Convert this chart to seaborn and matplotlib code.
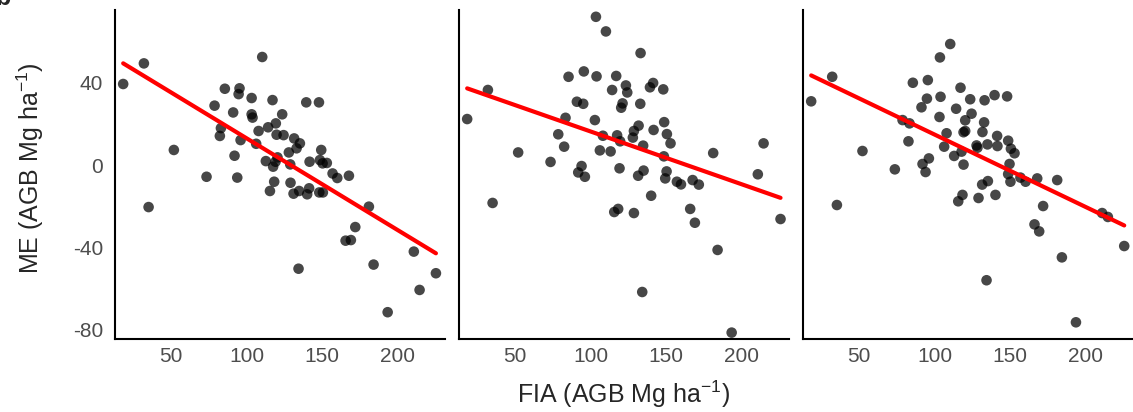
import numpy as np
import pandas as pd
import matplotlib
matplotlib.use("Agg")
import matplotlib.pyplot as plt
import seaborn as sns

# ---- data ----
fia_1 = [18.5, 32.2, 35.3, 52.0, 73.6, 78.9, 83.1, 82.4, 85.7, 91.2, 92.1, 93.9, 94.8, 95.4, 96.1,
         103.4, 103.4, 104.0, 106.4, 108.0, 110.4, 112.8, 114.3, 115.5, 117.2, 117.6, 118.3, 119.4,
         119.9, 120.5, 119.2, 123.6, 124.5, 128.0, 128.9, 129.1, 131.1, 131.5, 133.1, 134.4, 134.8,
         135.3, 139.5, 140.1, 141.4, 141.7, 147.9, 148.1, 149.4, 148.5, 150.3, 150.5, 153.1, 156.9,
         160.0, 167.7, 165.5, 169.0, 171.9, 180.9, 184.0, 193.3, 210.6, 214.4, 225.2]
me_1 = [39.3, 49.3, -20.4, 7.3, -5.7, 28.8, 17.9, 14.1, 37.0, 25.5, 4.5, -6.1, 34.4, 37.2, 12.1,
        32.5, 24.6, 23.0, 10.3, 16.5, 52.4, 1.9, 18.3, -12.6, 31.5, -0.8, -8.1, 20.2,
        14.7, 3.7, 1.6, 24.6, 14.5, 6.1, 0.3, -8.6, -13.9, 12.9, 8.1, -50.3, -12.6,
        10.5, 30.4, -14.2, -11.3, 1.6, 30.4, -13.3, 7.3, 2.4, 0.8, -13.3, 1.0, -4.1,
        -6.3, -5.2, -36.7, -36.4, -30.1, -20.2, -48.3, -71.4, -42.0, -60.6, -52.5]

fia_2 = [18.5, 32.2, 35.3, 52.2, 73.6, 78.7, 82.6, 83.5, 85.5, 91.0, 91.9, 94.1, 95.2, 95.6, 96.3,
         102.9, 103.6, 104.0, 106.2, 108.2, 110.2, 113.3, 114.3, 115.7, 117.0, 117.6, 118.3, 119.2,
         119.6, 120.3, 121.2, 123.4, 124.3, 128.0, 128.7, 128.7, 131.5, 131.8, 132.9, 133.1, 134.2,
         134.8, 135.1, 139.3, 140.1, 141.4, 141.7, 148.1, 148.5, 148.7, 149.4, 150.3, 150.5, 152.9,
         157.1, 159.8, 165.9, 167.5, 169.0, 171.6, 181.1, 184.0, 193.3, 210.6, 214.4, 225.6]
me_2 = [22.3, 36.4, -18.4, 6.1, 1.5, 14.9, 8.9, 22.9, 42.8, 30.7, -3.6, -0.5, 29.7, 45.4, -5.7,
        21.8, 71.9, 43.0, 7.1, 14.2, 64.8, 6.6, 36.4, -22.8, 43.2, 14.4, -21.3, -1.6,
        11.5, 27.8, 29.9, 38.6, 35.2, 13.3, 16.5, -23.3, -5.2, 19.1, 29.7, 54.3, -61.6,
        9.4, -2.7, 37.7, -14.9, 39.8, 17.0, 36.7, 4.2, 20.8, -6.5, -3.1, 15.0, 10.5,
        -8.1, -9.4, -21.3, -7.3, -28.0, -9.5, 5.8, -41.2, -81.3, -4.5, 10.5, -26.2]

fia_3 = [18.5, 32.4, 35.5, 52.4, 73.8, 78.9, 82.8, 83.5, 85.7, 91.4, 92.1, 94.1, 95.0, 95.6, 96.3,
         103.3, 103.6, 104.0, 106.4, 108.0, 110.4, 113.0, 114.3, 115.7, 117.2, 117.9, 118.5, 119.2,
         119.2, 120.3, 120.3, 123.6, 124.5, 127.8, 128.4, 129.1, 131.5, 131.7, 133.1, 132.8, 134.4,
         135.0, 135.3, 139.7, 140.3, 141.4, 141.6, 148.0, 148.7, 149.6, 148.7, 150.5, 150.2, 152.9,
         156.8, 160.2, 167.9, 166.1, 169.2, 171.8, 181.1, 184.2, 193.5, 210.8, 214.6, 225.4]
me_3 = [30.9, 42.8, -19.4, 6.8, -2.1, 21.8, 11.5, 20.2, 39.9, 28.0, 0.5, -3.4, 32.2, 41.2, 3.2,
        23.3, 52.2, 33.1, 8.9, 15.4, 58.7, 4.4, 27.3, -17.6, 37.5, 6.5, -14.5, 0.2,
        15.9, 16.5, 21.7, 31.9, 24.9, 9.5, 8.4, -16.0, -9.5, 16.0, 31.4, 20.7, -55.9,
        10.0, -7.8, 33.9, -14.5, 14.1, 9.2, 33.3, 11.8, 0.5, -4.4, 7.9, -8.1, 5.7,
        -6.1, -8.1, -6.5, -28.8, -32.2, -19.9, -7.3, -44.8, -76.3, -23.3, -25.2, -39.3]

x_ticks = [50, 100, 150, 200]
y_ticks = [-80, -40, 0, 40]
y_tick_labels = ["-80", "-40", "0", "40"]
x_label = "FIA (AGB Mg ha$^{-1}$)"
y_label = "ME (AGB Mg ha$^{-1}$)"
panel_tag = "b"

panels = [(fia_1, me_1), (fia_2, me_2), (fia_3, me_3)]

# ---- style ----
sns.set_theme(style="white")
plt.rcParams["font.family"] = ["Liberation Sans", "DejaVu Sans"]
plt.rcParams["mathtext.fontset"] = "custom"
plt.rcParams["mathtext.rm"] = "Liberation Sans"
plt.rcParams["mathtext.it"] = "Liberation Sans"

W, H = 1133, 412
fig = plt.figure(figsize=(W / 100, H / 100), dpi=100)

lefts = [115, 459, 803]
pw = 330
top_px, bot_px = 10, 339

axes = []
for i, (fx, fy) in enumerate(panels):
    ax = fig.add_axes([lefts[i] / W, 1 - bot_px / H, pw / W, (bot_px - top_px) / H])
    df = pd.DataFrame({"FIA": fx, "ME": fy})
    sns.regplot(data=df, x="FIA", y="ME", ax=ax, ci=None, truncate=True,
                scatter_kws=dict(s=58, color="black", alpha=0.72, edgecolor="none"),
                line_kws=dict(color="#ff0000", linewidth=3.0))
    ax.set_xlim(13.1, 231.2)
    ax.set_ylim(-84.4, 75.2)
    ax.set_xticks(x_ticks)
    ax.set_xticklabels([str(t) for t in x_ticks])
    ax.set_yticks(y_ticks)
    if i == 0:
        ax.set_yticklabels(y_tick_labels)
    else:
        ax.set_yticklabels([])
    ax.set_ylabel("")
    ax.set_xlabel("")
    ax.tick_params(axis="both", length=0, labelsize=15, colors="#4d4d4d")
    ax.tick_params(axis="x", pad=6)
    ax.tick_params(axis="y", pad=8.5)
    for side in ["top", "right"]:
        ax.spines[side].set_visible(False)
    for side in ["left", "bottom"]:
        ax.spines[side].set_color("black")
        ax.spines[side].set_linewidth(1.5)
    ax.grid(False)
    axes.append(ax)

fig.text(623.5 / W, 1 - 403 / H, x_label, ha="center", va="baseline", fontsize=18)
fig.text(30 / W, 1 - 168 / H, y_label, ha="center", va="center", rotation=90, fontsize=18)
fig.text(-0.004, 1 - 5 / H, panel_tag, ha="left", va="baseline", fontsize=18, fontweight="bold")

fig.savefig("out.png", dpi=100)
